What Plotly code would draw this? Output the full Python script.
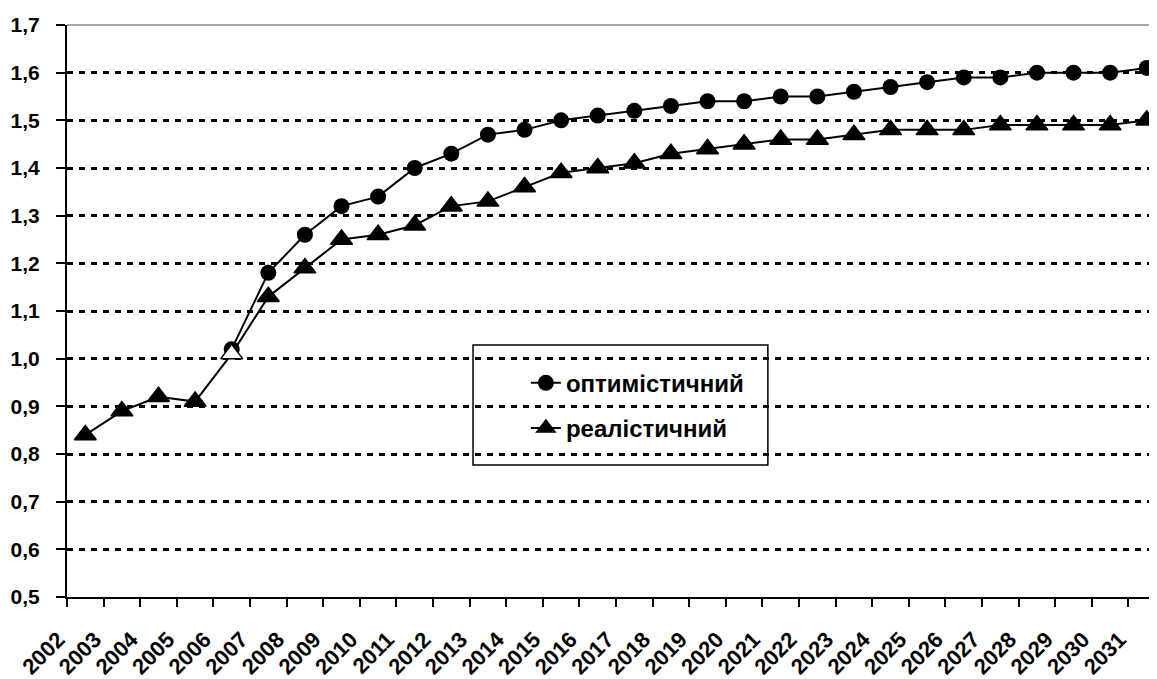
import plotly.graph_objects as go

# ---------------- data ----------------
years = ["2002", "2003", "2004", "2005", "2006", "2007", "2008", "2009", "2010", "2011",
         "2012", "2013", "2014", "2015", "2016", "2017", "2018", "2019", "2020", "2021",
         "2022", "2023", "2024", "2025", "2026", "2027", "2028", "2029", "2030", "2031"]

optimistic = [None, None, None, None, 1.02, 1.18, 1.26, 1.32, 1.34, 1.40,
              1.43, 1.47, 1.48, 1.50, 1.51, 1.52, 1.53, 1.54, 1.54, 1.55,
              1.55, 1.56, 1.57, 1.58, 1.59, 1.59, 1.60, 1.60, 1.60, 1.61]

realistic = [0.84, 0.89, 0.92, 0.91, 1.01, 1.13, 1.19, 1.25, 1.26, 1.28,
             1.32, 1.33, 1.36, 1.39, 1.40, 1.41, 1.43, 1.44, 1.45, 1.46,
             1.46, 1.47, 1.48, 1.48, 1.48, 1.49, 1.49, 1.49, 1.49, 1.50]

series_names = ["оптимістичний", "реалістичний"]
y_ticks = [0.5, 0.6, 0.7, 0.8, 0.9, 1.0, 1.1, 1.2, 1.3, 1.4, 1.5, 1.6, 1.7]
hollow_year = "2006"

# ---------------- style ----------------
FONT = "Liberation Sans, Arial, sans-serif"
real_colors = ["white" if y == hollow_year else "black" for y in years]

fig = go.Figure()
fig.add_trace(go.Scatter(
    x=years, y=optimistic, name=series_names[0], mode="lines+markers",
    line=dict(color="black", width=2),
    marker=dict(symbol="circle", size=16, color="black"),
    legendgroup="g1",
))
fig.add_trace(go.Scatter(
    x=years, y=realistic, name=series_names[1], mode="lines+markers",
    line=dict(color="black", width=2),
    marker=dict(symbol="triangle-up", size=19, color=real_colors,
                line=dict(color="black", width=1.5)),
    legendgroup="g2",
))

fig.update_layout(
    width=1149, height=671,
    margin=dict(l=59, r=0, t=17, b=82),
    paper_bgcolor="white", plot_bgcolor="white",
    separators=", ",
    font=dict(family=FONT, size=20, color="black", weight="bold"),
    showlegend=True,
    legend=dict(
        x=0.421, y=0.413, xanchor="left", yanchor="top",
        bgcolor="rgba(0,0,0,0)", borderwidth=0,
        font=dict(family=FONT, size=24, color="black", weight="bold"),
        traceorder="grouped", tracegroupgap=11,
    ),
    shapes=[
        dict(type="line", xref="paper", yref="paper", x0=0, x1=1, y0=1, y1=1,
             line=dict(color="#888888", width=1.5), layer="below"),
        dict(type="rect", xref="paper", yref="paper", x0=0.3725, x1=0.643,
             y0=0.2308, y1=0.4406, fillcolor="white",
             line=dict(color="black", width=1.5), layer="between"),
    ],
)

fig.update_xaxes(
    type="category", range=[-0.5, 29.28],
    tickson="boundaries", ticks="outside", ticklen=8, tickwidth=2, tickcolor="black",
    showline=True, linecolor="black", linewidth=2, showgrid=False,
    tickangle=-45, ticklabelshift=-27, ticklabelstandoff=19,
    tickfont=dict(family=FONT, size=22, color="black", weight="bold"),
)
fig.update_yaxes(
    range=[0.5, 1.7], tickvals=y_ticks, tickformat=".1f",
    ticks="outside", ticklen=9, tickwidth=2, tickcolor="black",
    showline=True, linecolor="black", linewidth=2, zeroline=False,
    showgrid=True, gridcolor="black", gridwidth=2.5, griddash="6px,6px",
    ticklabelstandoff=12,
    tickfont=dict(family=FONT, size=21, color="black", weight="bold"),
)

fig.write_html("out.html")
